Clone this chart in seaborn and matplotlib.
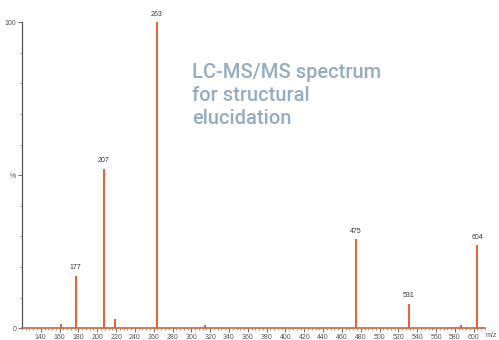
import seaborn as sns
import matplotlib.pyplot as plt
from matplotlib.ticker import MultipleLocator

# peaks (m/z, relative intensity %)
mz = [161, 177, 207, 219, 263, 315, 475, 531, 587, 604]
intensity = [1.2, 17, 52, 3, 100, 1, 29, 8, 1, 27]
labelled = [177, 207, 263, 475, 531, 604]

x_ticks = list(range(140, 601, 20))

if __name__ == '__main__':
    sns.set_style('white')
    plt.rcParams['font.family'] = ['Liberation Sans', 'DejaVu Sans']

    peak_color = '#e2673c'
    fig = plt.figure(figsize=(4.99, 3.40), dpi=100)
    ax = fig.add_axes([0.044, 0.035, 0.928, 0.900])

    ax.vlines(mz, 0, intensity, color=peak_color, linewidth=1.5)
    for m, i in zip(mz, intensity):
        if m in labelled:
            ax.text(m, i + 1.5, str(m), ha='center', va='bottom',
                    fontsize=5, color='#333333')

    ax.set_xlim(120, 612)
    ax.set_ylim(0, 100)
    ax.set_xticks(x_ticks)
    ax.xaxis.set_minor_locator(MultipleLocator(4))
    ax.set_yticks([0, 50, 100])
    ax.set_yticklabels(['0', '%', '100'])
    ax.yaxis.set_minor_locator(MultipleLocator(10))
    ax.tick_params(axis='both', which='major', labelsize=5, length=3,
                   width=0.6, colors='#555555', pad=1)
    ax.tick_params(axis='both', which='minor', length=1.5, width=0.5,
                   colors='#777777')
    ax.tick_params(axis='x', which='both', bottom=True, direction='out')
    ax.tick_params(axis='y', which='both', left=True, direction='out')

    for side in ['top', 'right']:
        ax.spines[side].set_visible(False)
    ax.spines['left'].set_color('#555555')
    ax.spines['left'].set_linewidth(0.9)
    ax.spines['bottom'].set_color('#c8643e')
    ax.spines['bottom'].set_linewidth(1.2)

    ax.text(613, -1.2, 'm/z', fontsize=5, color='#555555', va='top',
            clip_on=False)

    ax.text(301, 86.5, 'LC-MS/MS spectrum\nfor structural\nelucidation',
            fontsize=14.5, color='#95adc0', va='top', ha='left',
            linespacing=1.25, family=['Roboto', 'DejaVu Sans'],
            fontweight='medium')

    plt.savefig('out.png', dpi=100)
